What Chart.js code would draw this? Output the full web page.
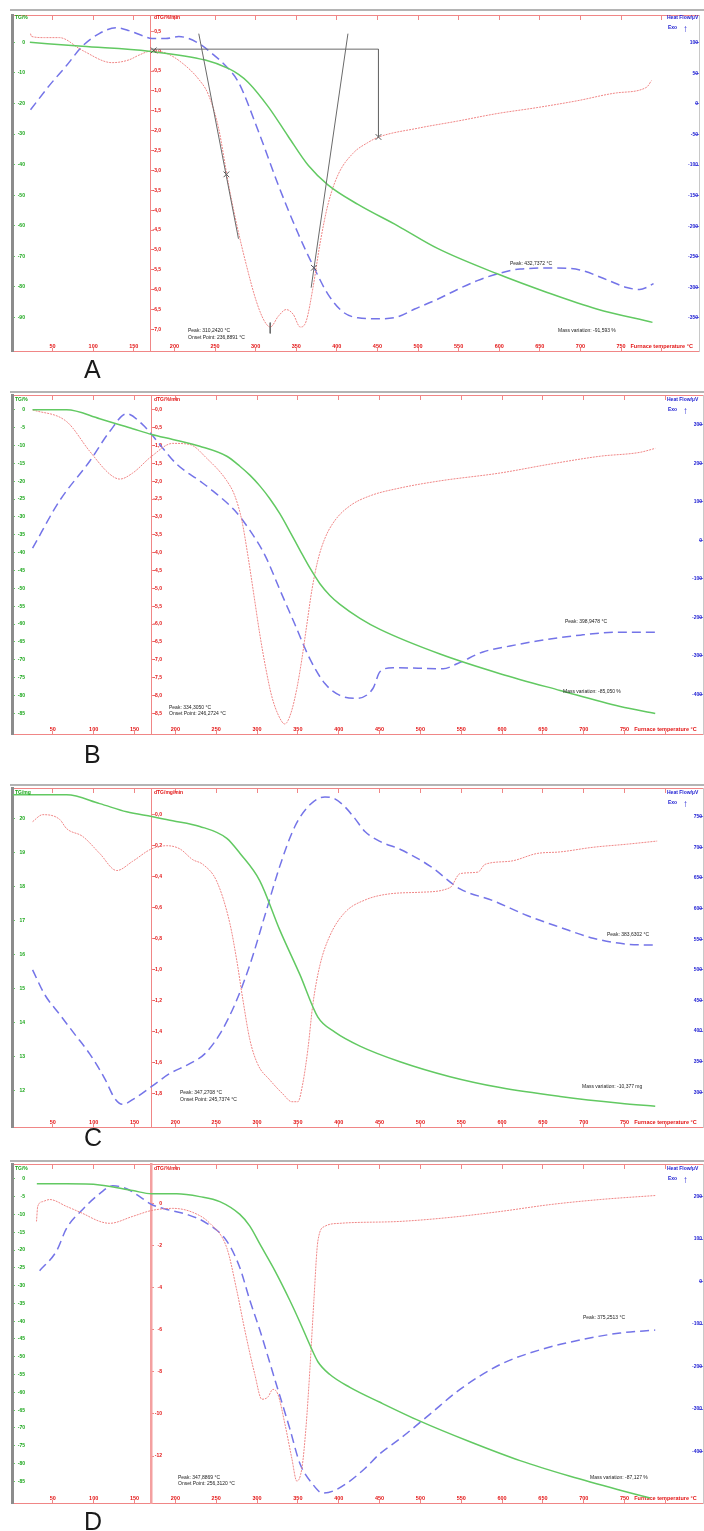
<!DOCTYPE html>
<html>
<head>
<meta charset="utf-8">
<script src="https://cdn.jsdelivr.net/npm/chart.js@4.4.1/dist/chart.umd.min.js"></script>
<style>
  body { margin: 0; background: #fff; }
  #page { position: relative; width: 704px; height: 1531px; overflow: hidden; background: #fff; }
  .panel { position: absolute; left: 0; width: 704px; }
  .shade { position: absolute; left: 10px; width: 694px; height: 2px; background: #b4b4b4; }
  .tag { position: absolute; left: 84px; font: 25px 'Liberation Sans', Arial, sans-serif; line-height: 1; color: #1a1a1a; }
</style>
</head>
<body>
<div id="page"></div>
<script>
// ---- data (temperature in °C) ----
// Panel A
const tA_tg = [22, 86.5, 168.6, 238, 267, 279, 291, 315.7, 340, 365, 389, 426, 475, 524, 597.5, 659, 720, 788.7];
const vA_tg = [0, -1.3, -2.9, -5.8, -8.6, -10.5, -13.1, -21.1, -30.7, -40.3, -46.6, -53, -60, -67.4, -75.7, -81.8, -87.2, -91.6];
const tA_dtg = [22.8, 24, 40, 58.3, 86.5, 123.3, 144, 156.4, 171, 189.5, 209, 230, 242, 254.4, 266.7, 276.5, 288.7, 301, 310.8, 318.1,
  327.9, 337.7, 346.3, 354.9, 362.3, 370.8, 379.4, 389.2, 401.5, 419.9, 438.2, 451.7, 499.5, 548.5, 597.5, 646.6, 695.6, 744.6, 781.4, 787.5];
const vA_dtg = [0.44, 0.37, 0.34, 0.34, 0.02, -0.29, -0.22, -0.10, 0, -0.05, -0.29, -0.71, -1.10, -1.94, -3.36, -4.34, -5.39, -6.30, -6.79, -6.94,
  -6.67, -6.50, -6.62, -6.94, -6.79, -5.93, -4.83, -3.85, -3.11, -2.57, -2.30, -2.16, -1.94, -1.76, -1.57, -1.42, -1.25, -1.05, -0.91, -0.74];
const tA_hf = [22.8, 46.1, 66.9, 86.5, 107.4, 128.2, 144.1, 160, 172.3, 189.5, 205.4, 230, 245.8, 263, 279, 303.4, 327.9, 352.5, 373.3,
  389.2, 407.6, 426, 450.5, 475, 495.8, 524, 548.5, 573, 597.5, 625.7, 667.4, 699.3, 732.4, 757, 772.9, 781.4, 790];
const vA_hf = [-9.6, 30.3, 62.3, 94.2, 115, 124.6, 119.8, 111.8, 107, 107, 110.2, 99, 83, 62.3, 35.1, -44.7, -132.6, -212.4, -271.5,
  -311.4, -340.2, -349.7, -351.3, -348.1, -335.4, -319.4, -303.4, -289, -277.9, -269.9, -268.3, -271.5, -287.5, -300.2, -303.4, -300.2, -293.8];
const tickA_tg = [0, -10, -20, -30, -40, -50, -60, -70, -80, -90];
const tickA_dtg = [0.5, 0, -0.5, -1, -1.5, -2, -2.5, -3, -3.5, -4, -4.5, -5, -5.5, -6, -6.5, -7];
const tickA_hf = [100, 50, 0, -50, -100, -150, -200, -250, -300, -350];
// construction lines of the onset / peak evaluation in A (DTG units)
const tanA1_t = [230, 278.9], tanA1_v = [0.44, -4.72];
const tanA2_t = [413.7, 368.4], tanA2_v = [0.44, -5.95];
const stepA_t = [171, 451.3, 451.3], stepA_v = [0.05, 0.05, -2.16];
const markA_t = [174.5, 264, 371.7, 451.3], markA_v = [0.02, -3.10, -5.45, -2.16];
const peakA_t = [318, 318], peakA_v = [-6.83, -7.10];

// Panel B
const tB_tg = [25.2, 66.9, 107.4, 147.8, 171, 196.8, 229.9, 263, 279, 291.2, 303.4, 315.7, 327.9, 340.2, 352.5, 364.7, 377, 389.2, 401.5,
  426, 450.5, 524, 597.5, 671, 744.6, 787.5];
const vB_tg = [0, 0, -2.5, -5.3, -6.9, -8.3, -10.2, -13.0, -15.8, -18.3, -21.3, -24.9, -29.1, -34.1, -39.3, -44.3, -48.7, -52.0, -54.5,
  -58.4, -61.5, -68.4, -73.9, -78.6, -83.1, -85.05];
const tB_dtg = [25.2, 66.9, 95.1, 119.6, 131.9, 147.8, 171, 196.8, 217.6, 238.5, 263, 272.8, 281.4, 288.7, 296.1, 303.4, 310.8, 318.1, 326.7, 334,
  341.4, 348.7, 354.9, 361, 367.2, 374.5, 383.1, 395.3, 413.7, 438.2, 475, 524, 597.5, 659, 720, 769, 787.5];
const vB_dtg = [0, -0.33, -1.16, -1.80, -1.94, -1.77, -1.30, -0.94, -0.97, -1.36, -1.99, -2.41, -3.10, -4.07, -5.18, -6.29, -7.25, -8.03, -8.58, -8.80,
  -8.50, -7.81, -6.98, -6.01, -5.04, -4.21, -3.60, -3.10, -2.69, -2.41, -2.19, -1.99, -1.77, -1.52, -1.30, -1.19, -1.08];
const tB_hf = [25.2, 58.3, 95.1, 119.6, 140.4, 160, 171, 180.9, 201.7, 229.9, 245.8, 272.8, 291.2, 309.6, 327.9, 346.3, 364.7, 383.1, 401.5,
  419.9, 441.9, 450.5, 466.4, 527.7, 544.9, 576.7, 609.8, 642.9, 695.6, 744.6, 787.5];
const vB_hf = [-20.5, 102.6, 205.1, 282.1, 328.2, 300, 274.4, 248.7, 197.4, 153.9, 128.2, 77.0, 25.7, -38.4, -128.2, -217.9, -307.7, -371.8, -402.5,
  -410.2, -384.6, -341, -330.7, -333.3, -320.5, -289.7, -274.3, -261.5, -246.1, -238.5, -238.5];
const tickB_tg = [0, -5, -10, -15, -20, -25, -30, -35, -40, -45, -50, -55, -60, -65, -70, -75, -80, -85];
const tickB_dtg = [0, -0.5, -1, -1.5, -2, -2.5, -3, -3.5, -4, -4.5, -5, -5.5, -6, -6.5, -7, -7.5, -8, -8.5];
const tickB_hf = [300, 200, 100, 0, -100, -200, -300, -400];

// Panel C (mass in mg)
const tC_tg = [1, 66.9, 107.4, 140.4, 171, 196.8, 229.9, 263, 279, 303.4, 327.9, 352.5, 374.5, 395.3, 426, 475, 536.3, 597.5, 671, 744.6, 787.5];
const vC_tg = [20.70, 20.70, 20.44, 20.20, 20.06, 19.94, 19.77, 19.42, 18.98, 18.17, 16.72, 15.41, 14.16, 13.72, 13.31, 12.85, 12.41, 12.09, 11.83, 11.63, 11.54];
const tC_dtg = [25.2, 37.5, 58.3, 66.9, 86.5, 107.4, 128.2, 147.8, 171, 189.5, 205.4, 221.3, 233.6, 250.7, 266.7, 275.2, 282.6, 291.2, 301, 315.7,
  331.6, 342.6, 350, 356.1, 362.3, 368.4, 377, 389.2, 407.6, 432.1, 462.7, 499.5, 536.3, 548.5, 570.6, 579.2, 609.8, 642.9, 671, 711.5, 753.2, 789.9];
const vC_dtg = [-0.045, 0, -0.03, -0.09, -0.14, -0.25, -0.36, -0.30, -0.22, -0.20, -0.22, -0.29, -0.32, -0.43, -0.70, -0.94, -1.19, -1.45, -1.61, -1.71,
  -1.80, -1.85, -1.85, -1.73, -1.51, -1.22, -0.97, -0.78, -0.63, -0.55, -0.51, -0.50, -0.47, -0.38, -0.37, -0.32, -0.30, -0.25, -0.24, -0.21, -0.19, -0.17];
const tC_hf = [25.2, 40, 58.3, 76.7, 95.1, 113.5, 125.7, 135.5, 150.2, 171, 193, 217.6, 236, 254.4, 272.8, 291.2, 309.6, 327.9, 346.3, 364.7,
  383.1, 395.3, 407.6, 419.9, 432.1, 450.5, 475, 511.8, 548.5, 589, 630.6, 671, 711.5, 753.2, 787.5];
const vC_hf = [500, 459.7, 427.4, 395.1, 362.9, 322.6, 290.3, 280.6, 290.3, 309.7, 330.6, 346.8, 362.9, 395.1, 443.5, 508, 588.7, 669.3, 733.9, 769.4,
  782.3, 779, 766.1, 746.8, 725.8, 709.7, 696.8, 669.4, 632.2, 612.9, 588.7, 569.4, 551.6, 541.9, 540.3];
const tickC_tg = [20, 19, 18, 17, 16, 15, 14, 13, 12];
const tickC_dtg = [0, -0.2, -0.4, -0.6, -0.8, -1, -1.2, -1.4, -1.6, -1.8];
const tickC_hf = [750, 700, 650, 600, 550, 500, 450, 400, 350, 300];

// Panel D
const tD_tg = [30.4, 66.9, 107.4, 147.8, 171, 201.7, 229.9, 254.4, 279, 291.2, 303.4, 321.8, 340.2, 352.5, 364.7, 374.5, 389.2, 413.7, 450.5,
  499.5, 560.7, 622, 683.3, 744.6, 781.4];
const vD_tg = [-1.4, -1.4, -1.7, -3.3, -4.2, -4.2, -5.0, -6.4, -10, -13.3, -18.3, -25.8, -34.2, -40.3, -46.7, -51.4, -55, -58.6, -62.8,
  -68.1, -73.9, -79.2, -83.6, -87.5, -89.7];
const tD_dtg = [30, 31.5, 37.5, 46.1, 66.9, 86.5, 107.4, 119.6, 147.8, 171, 196.8, 221.3, 242.2, 263, 275.2, 285, 297.3, 305.9, 313.2, 319.4,
  325.5, 334.1, 342.6, 348.7, 354.9, 359.8, 364.7, 369.6, 374.5, 383.1, 401.5, 475, 536.3, 597.5, 659, 720, 787.5];
const vD_dtg = [-0.85, -0.14, 0.09, 0.19, -0.14, -0.47, -0.85, -0.94, -0.61, -0.33, -0.23, -0.42, -0.94, -2.11, -4.13, -6.01, -8.12, -9.30, -9.20, -8.83,
  -9.06, -10.47, -12.11, -13.19, -12.58, -10.70, -7.89, -4.60, -1.78, -1.08, -0.94, -0.85, -0.66, -0.38, -0.05, 0.19, 0.38];
const tD_hf = [33.8, 54.6, 66.9, 86.5, 107.4, 123.3, 140.4, 156.4, 171, 189.5, 214, 238.5, 263, 279, 291.2, 303.4, 321.8, 340.2, 352.5, 367.2,
  380.6, 392.9, 410, 432.1, 450.5, 475, 511.8, 548.5, 597.5, 646.6, 695.6, 744.6, 787.5];
const vD_hf = [25.6, 72.1, 125.6, 169.8, 207, 225.6, 218.6, 200, 181.4, 169.8, 158.1, 137.2, 95.3, 32.5, -44.2, -114, -230.3, -346.6, -428, -474.5,
  -497.8, -493.1, -474.5, -439.7, -404.8, -369.9, -311.7, -253.6, -195.4, -160.5, -137.3, -121, -114];
const tickD_tg = [0, -5, -10, -15, -20, -25, -30, -35, -40, -45, -50, -55, -60, -65, -70, -75, -80, -85];
const tickD_dtg = [0, -2, -4, -6, -8, -10, -12];
const tickD_hf = [200, 100, 0, -100, -200, -300, -400];

// ---- drawing ----
const X_MIN = 0, X_MAX = 846, X_STEP = 50;
const AXIS_AT = { tg: 0, dtg: 171, hf: 846 };        // where each y axis line sits (°C)
const LABEL_AT = { tg: 15.9, dtg: 183.6, hf: 844.8 }; // right edge of each axis' labels (°C)

const GREEN = '#62c962', RED = '#f08686', BLUE = '#7474e8';
const GREEN_TXT = '#19a619', RED_TXT = '#e31515', BLUE_TXT = '#1c1cd2';
const FAMILY = "'Liberation Sans', Arial, sans-serif";
const tickFont = { family: FAMILY, size: 5, weight: 'bold' };

function fmt(dec) {
  return v => (Math.abs(v) < 1e-9 ? 0 : v).toFixed(dec).replace('.', ',');
}

function useTicks(values) {
  return scale => { scale.ticks = values.map(v => ({ value: v })); };
}

function lineAxis(r, ticks, at, color, borderColor, borderWidth, tick) {
  return {
    type: 'linear', min: r[0], max: r[1], position: { x: at },
    afterBuildTicks: useTicks(ticks),
    grid: { display: true, drawOnChartArea: false, drawTicks: true, tickLength: tick, color: color },
    border: { display: true, color: borderColor, width: borderWidth },
    ticks: { display: false }
  };
}

function labelAxis(r, ticks, at, color, dec) {
  return {
    type: 'linear', min: r[0], max: r[1], position: { x: at },
    afterBuildTicks: useTicks(ticks),
    grid: { display: false, drawTicks: false },
    border: { display: false },
    ticks: { autoSkip: false, padding: 0, color: color, font: tickFont, callback: fmt(dec) }
  };
}

function curve(t, v, axis, color, width, dash) {
  return {
    data: t.map((x, i) => ({ x: x, y: v[i] })),
    xAxisID: 'x', yAxisID: axis,
    borderColor: color, borderWidth: width, borderDash: dash,
    pointRadius: 0, fill: false, cubicInterpolationMode: 'monotone'
  };
}

function guide(t, v, width) {
  return {
    data: t.map((x, i) => ({ x: x, y: v[i] })),
    xAxisID: 'x', yAxisID: 'yR',
    borderColor: '#6a6a6a', borderWidth: width, pointRadius: 0, tension: 0, fill: false
  };
}

function textPlugin(items, top) {
  return {
    id: 'panelText',
    afterDraw(chart) {
      const ctx = chart.ctx;
      ctx.save();
      ctx.textBaseline = 'middle';
      ctx.textAlign = 'left';
      items.forEach(it => {
        ctx.font = it[4];
        ctx.fillStyle = it[3];
        ctx.fillText(it[0], it[1], it[2] - top);
      });
      ctx.restore();
    }
  };
}

function headers(y, tgUnit, dtgUnit) {
  const f = 'bold 5px ' + FAMILY;
  return [
    [tgUnit, 15, y, GREEN_TXT, f],
    [dtgUnit, 154, y, RED_TXT, f],
    ['Heat Flow/µV', 667, y, BLUE_TXT, f],
    ['Exo', 668, y + 10, BLUE_TXT, f],
    ['↑', 683, y + 11, BLUE_TXT, '10px ' + FAMILY]
  ];
}

function note(text, x, y) {
  return [text, x, y, '#222', '5px ' + FAMILY];
}

function buildPanel(p) {
  const page = document.getElementById('page');
  const shade = document.createElement('div');
  shade.className = 'shade';
  shade.style.top = (p.top - 2) + 'px';
  page.appendChild(shade);

  const box = document.createElement('div');
  box.className = 'panel';
  box.style.top = (p.top - 1) + 'px';
  box.style.height = (p.bottom - p.top + 2) + 'px';
  const canvas = document.createElement('canvas');
  box.appendChild(canvas);
  page.appendChild(box);

  const tag = document.createElement('div');
  tag.className = 'tag';
  tag.style.top = p.tagTop + 'px';
  tag.textContent = p.name;
  page.appendChild(tag);

  const scales = {
    x: {
      type: 'linear', min: X_MIN, max: X_MAX, position: { yT: p.tg[0] },
      grid: { display: true, drawOnChartArea: false, drawTicks: true, tickLength: -4, color: RED },
      border: { display: true, color: RED, width: 1 },
      ticks: {
        stepSize: X_STEP, includeBounds: false, autoSkip: false, maxRotation: 0, minRotation: 0,
        padding: -3.6, color: RED_TXT, font: { family: FAMILY, size: 5.5, weight: 'bold' },
        callback: v => (v === 800 ? 'Furnace temperature °C' : (v > 0 && v <= 750 ? String(v) : ''))
      }
    },
    xt: {
      type: 'linear', min: X_MIN, max: X_MAX, position: { yT: p.tg[1] },
      grid: { display: true, drawOnChartArea: false, drawTicks: true, tickLength: 4, color: RED },
      border: { display: true, color: RED, width: 1 },
      ticks: { display: false, stepSize: X_STEP, includeBounds: false, autoSkip: false }
    },
    yT: lineAxis(p.tg, p.tgTicks, AXIS_AT.tg, GREEN, '#8c8c8c', 3, -4),
    yTl: labelAxis(p.tg, p.tgTicks, LABEL_AT.tg, GREEN_TXT, 0),
    yR: lineAxis(p.dtg, p.dtgTicks, AXIS_AT.dtg, RED, p.dtgLine, p.dtgLineWidth, -4),
    yRl: labelAxis(p.dtg, p.dtgTicks, LABEL_AT.dtg, RED_TXT, p.dtgDec),
    yH: lineAxis(p.hf, p.hfTicks, AXIS_AT.hf, BLUE, '#c8c8c8', 1, 4),
    yHl: labelAxis(p.hf, p.hfTicks, LABEL_AT.hf, BLUE_TXT, 0)
  };

  new Chart(canvas.getContext('2d'), {
    type: 'line',
    data: { datasets: p.datasets },
    options: {
      responsive: true, maintainAspectRatio: false, animation: false, devicePixelRatio: 1,
      layout: { padding: { left: 12, right: 1, top: 1, bottom: 1 } },
      plugins: { legend: { display: false }, tooltip: { enabled: false } },
      scales: scales
    },
    plugins: [textPlugin(p.texts, p.top - 1)]
  });
}

function curves(tg, dtg, hf) {
  return [
    curve(tg[0], tg[1], 'yT', GREEN, 1.5, []),
    curve(dtg[0], dtg[1], 'yR', RED, 1, [2, 1]),
    curve(hf[0], hf[1], 'yH', BLUE, 1.5, [9, 5])
  ];
}

const marksA = {
  data: markA_t.map((x, i) => ({ x: x, y: markA_v[i] })),
  xAxisID: 'x', yAxisID: 'yR', showLine: false,
  pointStyle: 'crossRot', pointRadius: 4, pointBorderColor: '#555', pointBorderWidth: 1
};

buildPanel({
  name: 'A', top: 11, bottom: 355, tagTop: 357,
  tg: [-100.96, 8.95], tgTicks: tickA_tg,
  dtg: [-7.543, 0.909], dtgTicks: tickA_dtg, dtgDec: 1, dtgLine: RED, dtgLineWidth: 1,
  hf: [-404, 145.4], hfTicks: tickA_hf,
  datasets: [
    guide(stepA_t, stepA_v, 1), guide(tanA1_t, tanA1_v, 1), guide(tanA2_t, tanA2_v, 1), guide(peakA_t, peakA_v, 1), marksA
  ].concat(curves([tA_tg, vA_tg], [tA_dtg, vA_dtg], [tA_hf, vA_hf])),
  texts: headers(18, 'TG/%', 'dTG/%/min').concat([
    note('Peak: 310,2420 °C', 188, 331), note('Onset Point: 236,8891 °C', 188, 338),
    note('Peak: 432,7372 °C', 510, 264), note('Mass variation: -91,593 %', 558, 331)
  ])
});

buildPanel({
  name: 'B', top: 393, bottom: 736, tagTop: 742,
  tg: [-90.8, 4.15], tgTicks: tickB_tg,
  dtg: [-9.08, 0.415], dtgTicks: tickB_dtg, dtgDec: 1, dtgLine: RED, dtgLineWidth: 1,
  hf: [-502.6, 376.9], hfTicks: tickB_hf,
  datasets: curves([tB_tg, vB_tg], [tB_dtg, vB_dtg], [tB_hf, vB_hf]),
  texts: headers(400, 'TG/%', 'dTG/%/min').concat([
    note('Peak: 334,3050 °C', 169, 708), note('Onset Point: 246,2724 °C', 169, 714),
    note('Peak: 398,9478 °C', 565, 622), note('Mass variation: -85,050 %', 563, 692)
  ])
});

buildPanel({
  name: 'C', top: 786, bottom: 1129, tagTop: 1125,
  tg: [10.93, 20.90], tgTicks: tickC_tg,
  dtg: [-2.013, 0.172], dtgTicks: tickC_dtg, dtgDec: 1, dtgLine: RED, dtgLineWidth: 1,
  hf: [243.5, 796.8], hfTicks: tickC_hf,
  datasets: curves([tC_tg, vC_tg], [tC_dtg, vC_dtg], [tC_hf, vC_hf]),
  texts: headers(793, 'TG/mg', 'dTG/mg/min').concat([
    note('Peak: 347,2708 °C', 180, 1093), note('Onset Point: 245,7374 °C', 180, 1100),
    note('Peak: 383,6302 °C', 607, 935), note('Mass variation: -10,377 mg', 582, 1087)
  ])
});

buildPanel({
  name: 'D', top: 1162, bottom: 1505, tagTop: 1509,
  tg: [-91.1, 4.17], tgTicks: tickD_tg,
  dtg: [-14.23, 1.878], dtgTicks: tickD_dtg, dtgDec: 0, dtgLine: '#f4a0a0', dtgLineWidth: 2.5,
  hf: [-521, 276.7], hfTicks: tickD_hf,
  datasets: curves([tD_tg, vD_tg], [tD_dtg, vD_dtg], [tD_hf, vD_hf]),
  texts: headers(1169, 'TG/%', 'dTG/%/min').concat([
    note('Peak: 347,8869 °C', 178, 1478), note('Onset Point: 256,3120 °C', 178, 1484),
    note('Peak: 375,2513 °C', 583, 1318), note('Mass variation: -87,127 %', 590, 1478)
  ])
});
</script>
</body>
</html>
